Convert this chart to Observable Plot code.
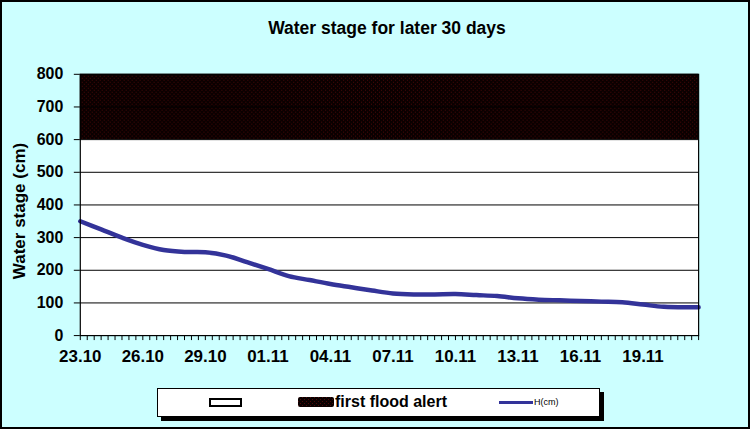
<!DOCTYPE html>
<html>
<head>
<meta charset="utf-8">
<script src="https://cdn.jsdelivr.net/npm/d3@7"></script>
<script src="https://cdn.jsdelivr.net/npm/@observablehq/plot@0.6"></script>
<style>
  html, body { margin: 0; padding: 0; background: #ccffff; }
  #wrap { position: relative; width: 750px; height: 429px; box-sizing: border-box;
          border: 2px solid #000; background: #ccffff; overflow: hidden;
          font-family: "Liberation Sans", Arial, sans-serif; }
  #title { position: absolute; left: 0; top: 16px; width: 770px; text-align: center;
           font-weight: bold; font-size: 17.5px; color: #000; }
  #ylabel { position: absolute; left: 18px; top: 209px; width: 0; height: 0; }
  #ylabel span { position: absolute; transform: translate(-50%, -50%) rotate(-90deg);
                 white-space: nowrap; font-weight: bold; font-size: 17px; color: #000; }
  #chart { position: absolute; left: -2px; top: -2px; }
  #legend { position: absolute; left: 155px; top: 386px; width: 441px; height: 27px;
            background: #fff; border: 1.5px solid #000; box-shadow: 4px 4px 0 #000; }
  .lg { position: absolute; }
</style>
</head>
<body>
<div id="wrap">
  <div id="title">Water stage for later 30 days</div>
  <div id="chart"></div>
  <div id="ylabel"><span>Water stage (cm)</span></div>
  <div id="legend"></div>
</div>
<script>
// ---- data ----
const dates = [
  "2009-10-23","2009-10-24","2009-10-25","2009-10-26","2009-10-27","2009-10-28",
  "2009-10-29","2009-10-30","2009-10-31","2009-11-01","2009-11-02","2009-11-03",
  "2009-11-04","2009-11-05","2009-11-06","2009-11-07","2009-11-08","2009-11-09",
  "2009-11-10","2009-11-11","2009-11-12","2009-11-13","2009-11-14","2009-11-15",
  "2009-11-16","2009-11-17","2009-11-18","2009-11-19","2009-11-20","2009-11-21T16:00"
];
const stage = [
  350, 325, 300, 278, 262, 256,
  255, 245, 225, 204, 182, 170,
  158, 148, 138, 129, 126, 126,
  127, 124, 121, 114, 110, 108,
  106, 104, 102, 95, 88, 87
];
const tickLabelDates = ["2009-10-23","2009-10-26","2009-10-29","2009-11-01","2009-11-04",
  "2009-11-07","2009-11-10","2009-11-13","2009-11-16","2009-11-19"];
const yTicks = [0, 100, 200, 300, 400, 500, 600, 700, 800];
const gridLines = [100, 200, 300, 400, 500, 600, 700];
const floodAlert = [{from: 600, to: 800, name: "first flood alert"}];
const seriesName = "H(cm)";
const legendLabels = ["", "first flood alert", "H(cm)"];

// ---- build ----
const parse = s => new Date(s.length > 10 ? s + "Z" : s + "T00:00Z");
const data = dates.map((d, i) => ({date: parse(d), value: stage[i]}));
const xDomain = [data[0].date, data[data.length - 1].date];
const minorTicks = d3.utcHour.every(8).range(xDomain[0], new Date(+xDomain[1] + 1));
const labelTicks = tickLabelDates.map(parse);

const chart = Plot.plot({
  width: 750,
  height: 370,
  marginTop: 74,
  marginLeft: 80,
  marginRight: 50,
  marginBottom: 34,
  style: {background: "transparent", fontFamily: "Liberation Sans, Arial, sans-serif",
          fontSize: "16px", fontWeight: "bold", color: "#000", overflow: "visible"},
  x: {type: "utc", domain: xDomain},
  y: {domain: [0, 800]},
  marks: [
    Plot.frame({fill: "white"}),
    Plot.rect(floodAlert, {y1: "from", y2: "to", fill: "url(#alertPat)"}),
    Plot.ruleY(gridLines, {stroke: "#000", strokeWidth: 1}),
    Plot.line(data, {x: "date", y: "value", stroke: "#333399", strokeWidth: 4.5,
                     curve: "catmull-rom"}),
    Plot.frame({stroke: "#000", strokeWidth: 1.2}),
    Plot.axisY({ticks: yTicks, tickSize: 6, tickPadding: 11, label: null,
                fontSize: 16, fontWeight: "bold"}),
    Plot.axisX({ticks: minorTicks, tickSize: 5, tickFormat: () => "", label: null}),
    Plot.axisX({ticks: labelTicks, tickSize: 0, tickPadding: 14, fontSize: 17,
                tickFormat: d3.utcFormat("%d.%m"), label: null})
  ]
});

// dither pattern for the flood-alert band
const ns = "http://www.w3.org/2000/svg";
const defs = document.createElementNS(ns, "defs");
defs.innerHTML = `<pattern id="alertPat" width="4" height="4" patternUnits="userSpaceOnUse">
  <rect width="4" height="4" fill="#0a0000"/>
  <rect x="0" y="0" width="1" height="1" fill="#4a0808"/>
  <rect x="2" y="2" width="1" height="1" fill="#4a0808"/>
</pattern>`;
chart.insertBefore(defs, chart.firstChild);
document.getElementById("chart").appendChild(chart);

// legend
const lg = document.getElementById("legend");
lg.innerHTML = `
  <div class="lg" style="left:51px;top:9px;width:29px;height:5px;border:2px solid #000;background:#fff"></div>
  <div class="lg" style="left:140px;top:8px;width:36px;height:10px;background:url('data:image/svg+xml;utf8,${encodeURIComponent('<svg xmlns="http://www.w3.org/2000/svg" width="4" height="4"><rect width="4" height="4" fill="#0a0000"/><rect width="1" height="1" fill="#4a0808"/><rect x="2" y="2" width="1" height="1" fill="#4a0808"/></svg>')}');border-radius:2px"></div>
  <div class="lg" style="left:177px;top:4px;font-weight:bold;font-size:16px;line-height:18px">${legendLabels[1]}</div>
  <div class="lg" style="left:341px;top:12px;width:34px;height:3px;background:#333399"></div>
  <div class="lg" style="left:376px;top:8px;font-size:9px;line-height:10px">${seriesName}</div>
`;
</script>
</body>
</html>
